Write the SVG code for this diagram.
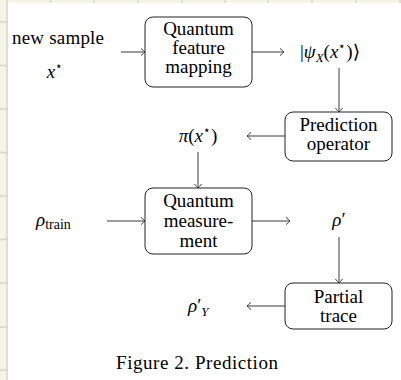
<svg xmlns="http://www.w3.org/2000/svg" width="401" height="380" viewBox="0 0 401 380" font-family="'Liberation Serif', 'DejaVu Serif', serif">
<defs>
<style>
text{font-family:'Liberation Serif','DejaVu Serif',serif;font-size:19px;fill:#000}
.t{text-anchor:middle}
.box{fill:#fff;stroke:#222;stroke-width:1}
.c{stroke:#3a3a3a;stroke-width:1;fill:none;marker-end:url(#to)}
.g{stroke:#dad7c8;stroke-width:1.5}
</style>
<marker id="to" viewBox="-6 -5 8 10" markerWidth="8" markerHeight="10" refX="0" refY="0" orient="auto" markerUnits="userSpaceOnUse">
<path d="M-4,-3.6 Q-1,-1 0,0 Q-1,1 -4,3.6" fill="none" stroke="#3a3a3a" stroke-width="1"/>
</marker>
</defs>
<rect x="0" y="0" width="401" height="380" fill="#f6f4e6"/>
<g class="g">
<line x1="7" y1="0" x2="7" y2="380"/>
<line x1="50.5" y1="0" x2="50.5" y2="4"/>
<line x1="94" y1="0" x2="94" y2="4"/>
<line x1="138" y1="0" x2="138" y2="4"/>
<line x1="182" y1="0" x2="182" y2="4"/>
<line x1="225" y1="0" x2="225" y2="4"/>
<line x1="268" y1="0" x2="268" y2="4"/>
<line x1="312" y1="0" x2="312" y2="4"/>
<line x1="356" y1="0" x2="356" y2="4"/>
<line x1="400" y1="0" x2="400" y2="4"/>
<line x1="0" y1="22" x2="8" y2="22"/>
<line x1="0" y1="65.5" x2="8" y2="65.5"/>
<line x1="0" y1="109" x2="8" y2="109"/>
<line x1="0" y1="152.5" x2="8" y2="152.5"/>
<line x1="0" y1="196" x2="8" y2="196"/>
<line x1="0" y1="239.5" x2="8" y2="239.5"/>
<line x1="0" y1="283" x2="8" y2="283"/>
<line x1="0" y1="327" x2="8" y2="327"/>
<line x1="0" y1="370" x2="8" y2="370"/>
</g>
<rect x="8" y="3" width="393" height="377" fill="#fff"/>

<g id="connectors">
<line class="c" x1="121" y1="52" x2="145" y2="52"/>
<line class="c" x1="252" y1="52" x2="284" y2="52"/>
<line class="c" x1="339" y1="68" x2="339" y2="112"/>
<line class="c" x1="285" y1="136" x2="247" y2="136"/>
<line class="c" x1="198" y1="152" x2="198" y2="188"/>
<line class="c" x1="107" y1="221" x2="145" y2="221"/>
<line class="c" x1="252" y1="221" x2="290" y2="221"/>
<line class="c" x1="339" y1="237" x2="339" y2="283"/>
<line class="c" x1="285" y1="306" x2="247" y2="306"/>
</g>

<g id="new-sample">
<text class="t" x="58" y="44" textLength="92">new sample</text>
<text class="t" x="55" y="78"><tspan font-style="italic">x</tspan><tspan font-size="12" dy="-8">⋆</tspan></text>
</g>

<g id="feature-mapping">
<rect class="box" x="145" y="17" width="107" height="70" rx="8"/>
<text class="t" x="198.5" y="35">Quantum</text>
<text class="t" x="198.5" y="54">feature</text>
<text class="t" x="198.5" y="73">mapping</text>
</g>

<g id="psi">
<text x="300" y="58">|<tspan font-style="italic">ψ</tspan><tspan font-style="italic" font-size="13" dy="4">X</tspan><tspan dy="-4">(</tspan><tspan font-style="italic">x</tspan><tspan font-size="12" dy="-8">⋆</tspan><tspan dy="8">)⟩</tspan></text>
</g>

<g id="prediction-operator">
<rect class="box" x="285" y="112" width="107" height="49" rx="8"/>
<text class="t" x="338.5" y="131">Prediction</text>
<text class="t" x="338.5" y="150">operator</text>
</g>

<g id="pi">
<text class="t" x="198" y="142"><tspan font-style="italic">π</tspan>(<tspan font-style="italic">x</tspan><tspan font-size="12" dy="-8">⋆</tspan><tspan dy="8">)</tspan></text>
</g>

<g id="rho-train">
<text x="36" y="226"><tspan font-style="italic">ρ</tspan><tspan font-size="14" dy="3">train</tspan></text>
</g>

<g id="quantum-measurement">
<rect class="box" x="145" y="188" width="107" height="66" rx="8"/>
<text class="t" x="198.5" y="207">Quantum</text>
<text class="t" x="198.5" y="227">measure-</text>
<text class="t" x="198.5" y="247">ment</text>
</g>

<g id="rho-prime">
<text class="t" x="339" y="226"><tspan font-style="italic">ρ</tspan><tspan>′</tspan></text>
</g>

<g id="partial-trace">
<rect class="box" x="285" y="283" width="107" height="46" rx="8"/>
<text class="t" x="338.5" y="303">Partial</text>
<text class="t" x="338.5" y="322">trace</text>
</g>

<g id="rho-y">
<text x="188" y="312"><tspan font-style="italic">ρ</tspan><tspan>′</tspan><tspan font-style="italic" font-size="13" dy="4">Y</tspan></text>
</g>

<text class="t" x="197" y="369" textLength="162">Figure 2. Prediction</text>
</svg>
